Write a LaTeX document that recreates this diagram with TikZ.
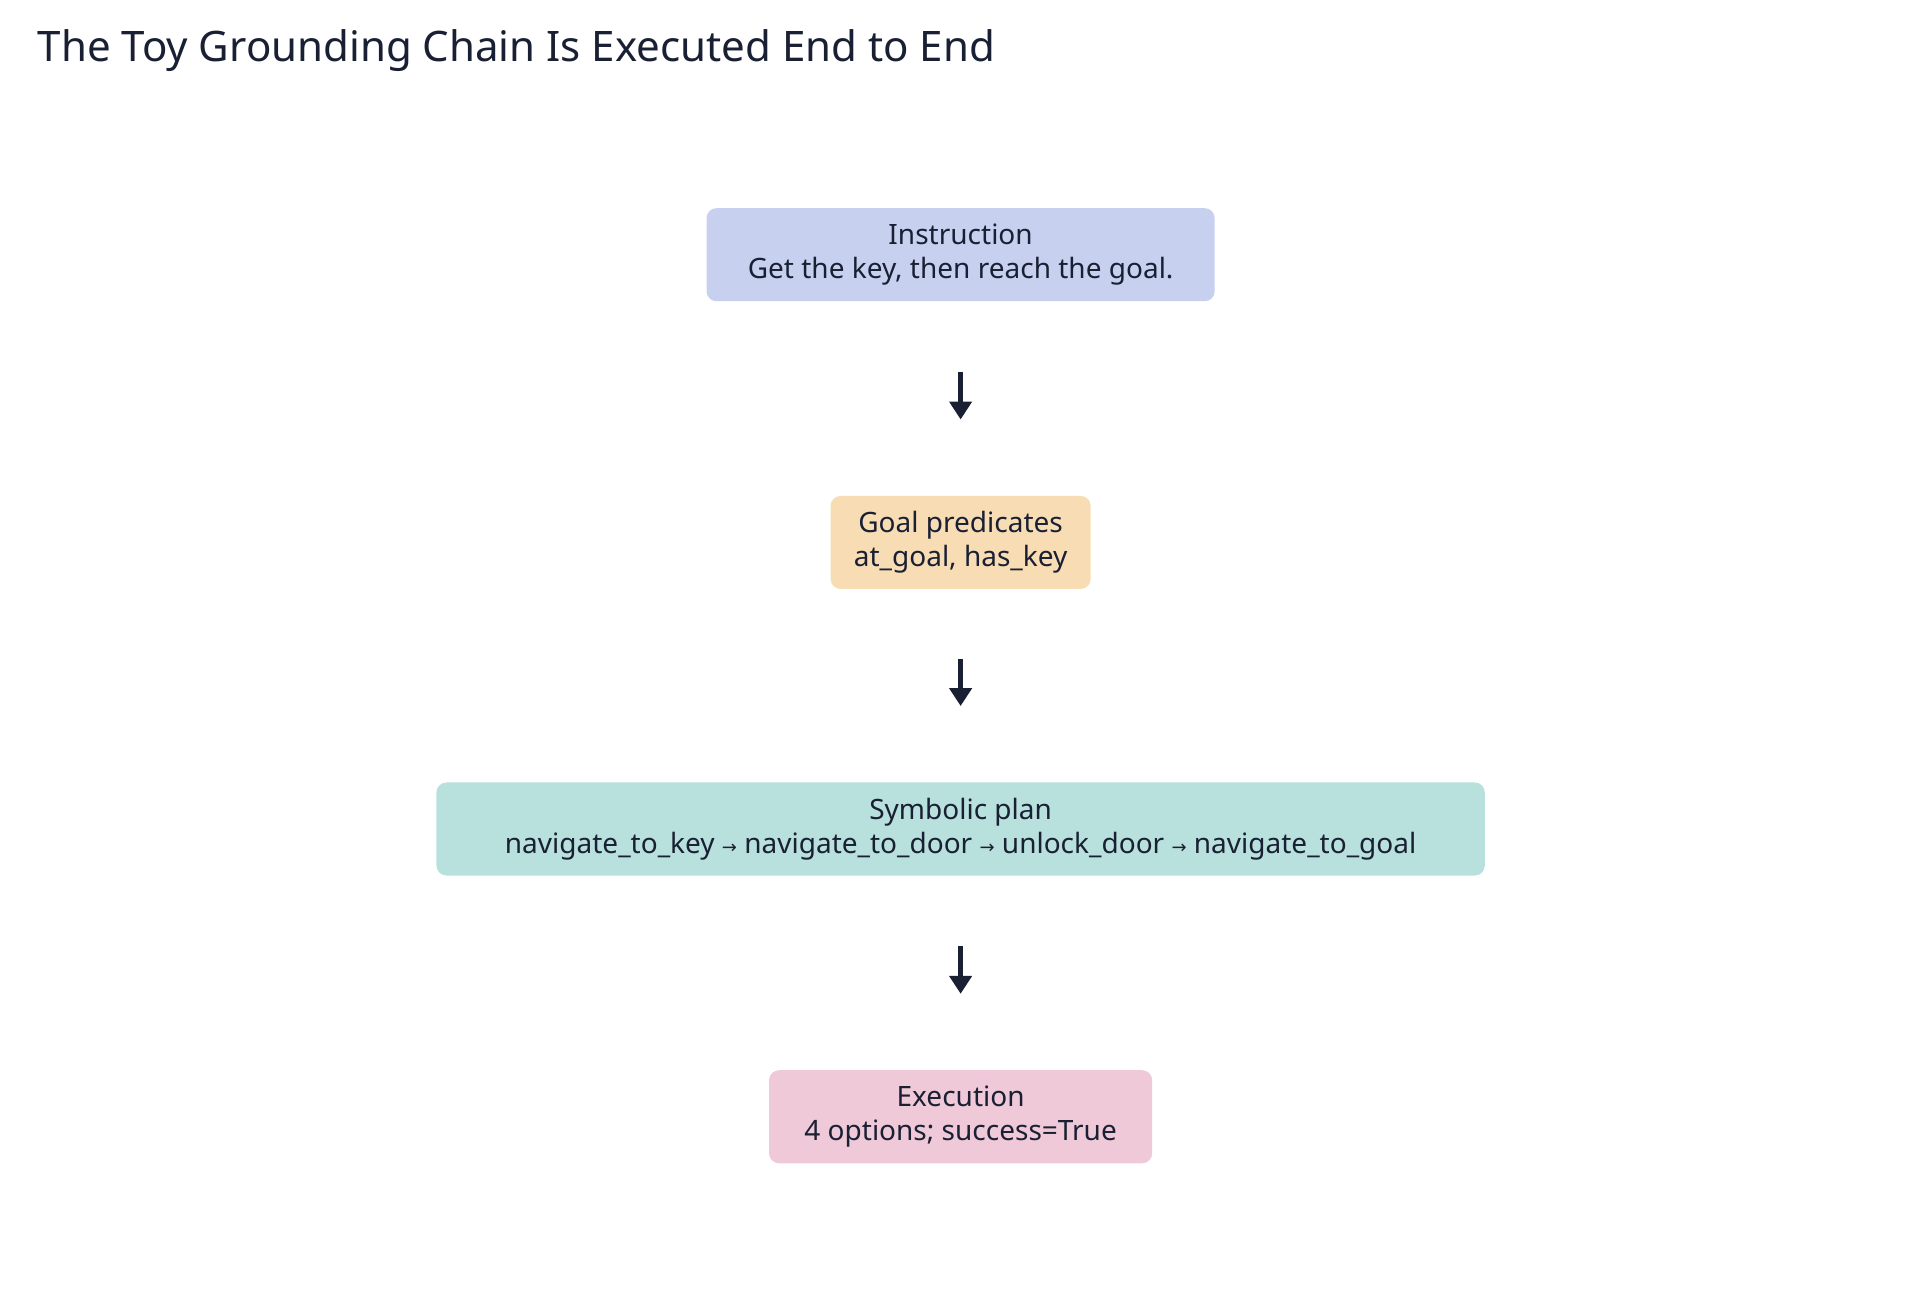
\documentclass[tikz,border=0pt]{standalone}
\usepackage{fontspec}
\setmainfont{Noto Sans}
\newfontfamily\symf{DejaVu Sans}
\usetikzlibrary{arrows.meta}
\definecolor{ink}{HTML}{1A2033}
\definecolor{cA}{HTML}{C8D0F0}
\definecolor{cB}{HTML}{F7DCB4}
\definecolor{cC}{HTML}{B8E0DC}
\definecolor{cD}{HTML}{EFC9D8}
\newcommand{\rarr}{{\symf\small →}}
\begin{document}
\begin{tikzpicture}[x=0.612pt,y=-0.612pt,
  box/.style={rounded corners=5pt,draw=none,text=ink,align=center,inner sep=0pt,
    minimum height=46.5pt,font=\fontsize{14}{17}\selectfont},
  arr/.style={ink,line width=2.6pt,-{Triangle[length=9pt,width=11pt]},shorten <=35pt,shorten >=38pt}]
\useasboundingbox (0,0) rectangle (1568,1055);
\node[anchor=west,text=ink,font=\fontsize{21}{25}\selectfont] (title) at (25,41) {The Toy Grounding Chain Is Executed End to End};
\node[box,fill=cA,minimum width=254pt] (a) at (784.5,208) {Instruction\\Get the key, then reach the goal.};
\node[box,fill=cB,minimum width=130pt] (b) at (784.5,443) {Goal predicates\\at\_goal, has\_key};
\node[box,fill=cC,minimum width=524pt] (c) at (784.5,677) {Symbolic plan\\navigate\_to\_key \rarr{} navigate\_to\_door \rarr{} unlock\_door \rarr{} navigate\_to\_goal};
\node[box,fill=cD,minimum width=191.5pt] (d) at (784.5,912) {Execution\\4 options; success=True};
\draw[arr] (a.south) -- (b.north);
\draw[arr] (b.south) -- (c.north);
\draw[arr] (c.south) -- (d.north);
\end{tikzpicture}
\end{document}
